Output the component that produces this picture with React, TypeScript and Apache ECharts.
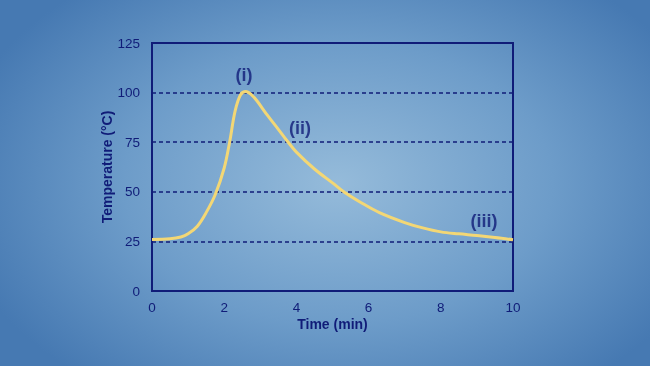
import React, { useEffect, useRef } from "react";
import * as echarts from "echarts";

const timeMin = [0, 0.5, 0.8, 1.0, 1.25, 1.5, 1.75, 2.0, 2.15, 2.3, 2.45, 2.6, 2.75, 2.9, 3.2, 3.5, 3.75, 4.0, 4.5, 5.0, 5.35, 5.75, 6.3, 7.0, 7.5, 8.0, 8.5, 9.0, 9.5, 10];
const temperature = [26, 26.3, 27.2, 28.8, 32.5, 39.5, 48.5, 62, 75, 90.5, 98.8, 100.5, 99, 96, 88.5, 81.5, 75.5, 70, 61.5, 54.5, 49.5, 45, 39.5, 34.5, 31.8, 29.8, 28.8, 28, 27, 25.8];
const annotationNames = ["(i)", "(ii)", "(iii)"];
const annotationX = [2.55, 4.1, 9.2];
const annotationY = [109, 82, 35.5];

const NAVY = "#101c78";
const FONT = "Liberation Sans, Arial, sans-serif";

export default function App() {
  const ref = useRef<HTMLDivElement>(null);
  useEffect(() => {
    if (!ref.current) return;
    const chart = echarts.init(ref.current, null, { renderer: "svg" });
    chart.setOption({
      animation: false,
      grid: {
        left: 152,
        right: 137,
        top: 43,
        bottom: 75,
        show: true,
        borderColor: NAVY,
        borderWidth: 2,
        backgroundColor: "transparent",
      },
      xAxis: {
        type: "value",
        min: 0,
        max: 10,
        interval: 2,
        name: "Time (min)",
        nameLocation: "middle",
        nameGap: 26,
        nameMoveOverlap: false,
        nameTextStyle: { color: NAVY, fontSize: 14, fontWeight: "bold", fontFamily: FONT },
        axisLine: { show: true, lineStyle: { color: NAVY, width: 2 } },
        axisTick: { show: false },
        axisLabel: { color: NAVY, fontSize: 13.5, fontFamily: FONT, margin: 9 },
        splitLine: { show: false },
      },
      yAxis: {
        type: "value",
        min: 0,
        max: 125,
        interval: 25,
        name: "Temperature (°C)",
        nameLocation: "middle",
        nameGap: 38,
        nameMoveOverlap: false,
        nameTextStyle: { color: NAVY, fontSize: 14, fontWeight: "bold", fontFamily: FONT },
        axisLine: { show: true, lineStyle: { color: NAVY, width: 2 } },
        axisTick: { show: false },
        axisLabel: { color: NAVY, fontSize: 13.5, fontFamily: FONT, margin: 12 },
        splitLine: { show: true, lineStyle: { color: NAVY, width: 1.5, type: [4, 3] } },
      },
      series: [
        {
          type: "line",
          data: timeMin.map((t, i) => [t, temperature[i]]),
          smooth: 0.35,
          showSymbol: false,
          lineStyle: { color: "#f3d775", width: 3 },
          z: 3,
        },
        {
          type: "scatter",
          symbolSize: 0,
          data: annotationNames.map((n, i) => ({ name: n, value: [annotationX[i], annotationY[i]] })),
          label: {
            show: true,
            position: "inside",
            formatter: "{b}",
            color: NAVY,
            fontSize: 18,
            fontWeight: "bold",
            fontFamily: FONT,
          },
          z: 4,
        },
      ],
    });
    return () => chart.dispose();
  }, []);
  return (
    <div
      style={{
        position: "fixed",
        left: 0,
        top: 0,
        width: 650,
        height: 366,
        background: "radial-gradient(ellipse 60% 70% at 52% 50%, #95bbda 0%, #6d9cc9 55%, #4679b2 100%)",
      }}
    >
      <div ref={ref} style={{ width: 650, height: 366 }} />
    </div>
  );
}
